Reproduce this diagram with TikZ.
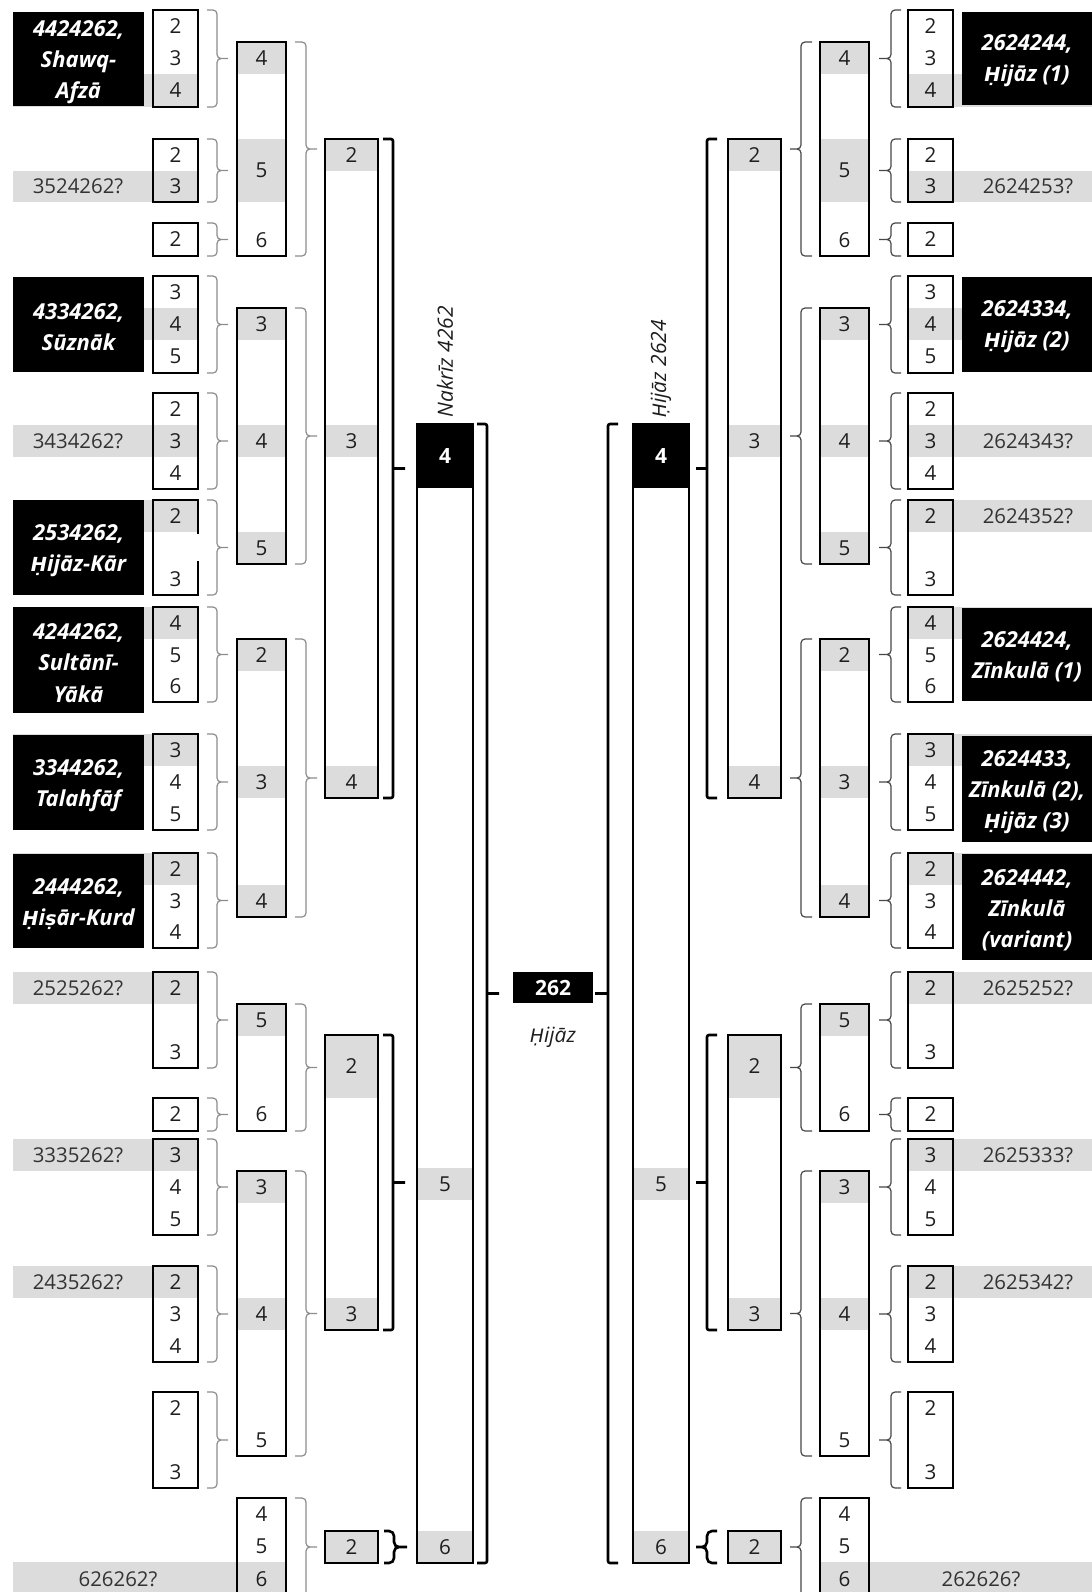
\documentclass[tikz,border=0pt]{standalone}
\usepackage{fontspec}
\setmainfont{Open Sans}
\newfontfamily\dv{DejaVu Sans}[Scale=0.88,BoldFont={DejaVu Sans Bold},
  ItalicFont={DejaVu Sans Oblique},BoldItalicFont={DejaVu Sans Bold Oblique}]
\newcommand\Hd{{\dv Ḥ}}
\newcommand\sd{{\dv ṣ}}
\usetikzlibrary{calc,fit}
\definecolor{bandgray}{HTML}{DCDCDC}
\definecolor{ink}{HTML}{1E1E1E}
\definecolor{qink}{HTML}{333333}

% braces pointing right: #1 style, #2 source node, #3 target node, #4 hook offset, #5 stem offset, #6 gap before target
\newcommand\curR[6]{%
 \draw[#1] let \p1=(#2.north east),\p2=(#2.south east),\p3=(#3.west),\p4=($(\p1)!0.5!(\p2)$) in
 (\x1+#4*0.5pt,\y1) -- (\x1+#5*0.5pt,\y1) -- (\x1+#5*0.5pt,\y4) -- (\x3-#6*0.5pt,\y4)
 (\x1+#4*0.5pt,\y2) -- (\x1+#5*0.5pt,\y2) -- (\x1+#5*0.5pt,\y4) -- (\x3-#6*0.5pt,\y4);}
\newcommand\sqR[6]{%
 \draw[#1] let \p1=(#2.north east),\p2=(#2.south east),\p3=(#3.west),\p4=($(\p1)!0.5!(\p2)$) in
 (\x1+#4*0.5pt,\y1) -- (\x1+#5*0.5pt,\y1) -- (\x1+#5*0.5pt,\y2) -- (\x1+#4*0.5pt,\y2)
 (\x1+#5*0.5pt,\y4) -- (\x3-#6*0.5pt,\y4);}
% braces pointing left
\newcommand\curL[6]{%
 \draw[#1] let \p1=(#2.north west),\p2=(#2.south west),\p3=(#3.east),\p4=($(\p1)!0.5!(\p2)$) in
 (\x1-#4*0.5pt,\y1) -- (\x1-#5*0.5pt,\y1) -- (\x1-#5*0.5pt,\y4) -- (\x3+#6*0.5pt,\y4)
 (\x1-#4*0.5pt,\y2) -- (\x1-#5*0.5pt,\y2) -- (\x1-#5*0.5pt,\y4) -- (\x3+#6*0.5pt,\y4);}
\newcommand\sqL[6]{%
 \draw[#1] let \p1=(#2.north west),\p2=(#2.south west),\p3=(#3.east),\p4=($(\p1)!0.5!(\p2)$) in
 (\x1-#4*0.5pt,\y1) -- (\x1-#5*0.5pt,\y1) -- (\x1-#5*0.5pt,\y2) -- (\x1-#4*0.5pt,\y2)
 (\x1-#5*0.5pt,\y4) -- (\x3+#6*0.5pt,\y4);}

% one side of the tree: #1 prefix, #2 A x, #3 B x, #4 C x, #5 D x
\newcommand\Side[5]{%
 \foreach \t/\b in {42/74,139/202,308/340,425/457,532/564,639/671,766/798,885/917,1004/1036,1171/1203,1298/1330,1562/1596}
   {\fill[bandgray] (#3,\t) rectangle (#3+49,\b);}
 \foreach \t/\b in {139/171,425/457,766/798,1035/1098,1298/1330,1531/1563}
   {\fill[bandgray] (#4,\t) rectangle (#4+53,\b);}
 \foreach \t/\b in {1168/1200,1531/1563}
   {\fill[bandgray] (#5,\t) rectangle (#5+56,\b);}
 \fill[black] (#5,424) rectangle (#5+56,488);
 \foreach \t/\b [count=\i] in {10/107,139/202,223/256,276/373,393/489,500/595,607/702,734/830,853/948,972/1068,1098/1131,1139/1235,1266/1362,1392/1488}
   {\node[frame,fit={(#2,\t)(#2+45,\b)}] (#1A\i) {};}
 \foreach \t/\b [count=\i] in {42/256,308/564,639/917,1004/1131,1171/1456,1498/1596}
   {\node[frame,fit={(#3,\t)(#3+49,\b)}] (#1B\i) {};}
 \foreach \t/\b [count=\i] in {139/798,1035/1330,1531/1563}
   {\node[frame,fit={(#4,\t)(#4+53,\b)}] (#1C\i) {};}
 \node[frame,fit={(#5,424)(#5+56,1563)}] (#1D) {};
 \foreach \y/\d in {26/2,58/3,90.5/4,155/2,186.5/3,239.5/2,292/3,324/4,356.5/5,409/2,441/3,473/4,516/2,579/3,623/4,655/5,686.5/6,750/3,782/4,814/5,869/2,901/3,932.5/4,988/2,1052/3,1114.5/2,1155/3,1187/4,1219/5,1282/2,1314/3,1346/4,1408/2,1472/3}
   {\node[dig] at (#2+22.5,\y) {\d};}
 \foreach \y/\d in {58/4,170.5/5,240/6,324/3,441/4,548/5,655/2,782/3,901/4,1020/5,1114.5/6,1187/3,1314/4,1440/5,1514/4,1546/5,1579/6}
   {\node[dig] at (#3+24.5,\y) {\d};}
 \foreach \y/\d in {155/2,441/3,782/4,1066/2,1314/3,1547/2}
   {\node[dig] at (#4+26.5,\y) {\d};}
 \foreach \y/\d in {1184/5,1547/6}
   {\node[dig] at (#5+28,\y) {\d};}
 \node[dig,text=white,font=\fontsize{10.5}{12}\selectfont\bfseries] at (#5+28,456) {4};
}

\begin{document}
\begin{tikzpicture}[x=0.5pt,y=-0.5pt,
  frame/.style={draw=black,line width=1.4pt,inner sep=0pt,outer sep=0pt},
  dig/.style={font=\fontsize{10.3}{12}\selectfont,text=ink,inner sep=0pt},
  qlab/.style={font=\fontsize{10.2}{12}\selectfont,text=qink,inner sep=0pt},
  bbox/.style={fill=black,inner sep=0pt,outer sep=0pt},
  btext/.style={text=white,align=center,inner sep=0pt,
    font=\fontsize{11}{15.6}\selectfont\bfseries\itshape},
  thinL/.style={draw=black!45,line width=0.6pt,rounded corners=2pt},
  thinR/.style={draw=black!72,line width=0.6pt,rounded corners=2pt},
  thick/.style={draw=black,line width=1.3pt,rounded corners=1pt},
  thickc/.style={draw=black,line width=1.3pt,rounded corners=2.5pt},
  ital/.style={font=\fontsize{10.5}{12}\selectfont\itshape,text=ink,inner sep=0pt}]
\useasboundingbox (0,0) rectangle (1092,1592);

% grey bands that tie a highlighted row to its label
\foreach \t/\b in {74/107,171/202,308/340,425/457,500/532,607/639,734/766,853/885,972/1004,1139/1171,1266/1298}
  {\fill[bandgray] (13,\t) rectangle (198,\b); \fill[bandgray] (908,\t) rectangle (1092,\b);}
\fill[bandgray] (13,1562) rectangle (286,1596);
\fill[bandgray] (820,1562) rectangle (1092,1596);

\Side{L}{153}{237}{325}{417}
\Side{R}{908}{820}{728}{633}
% opening in the frame of the Hijaz-Kar box
\draw[white,line width=2pt] (198,534) -- (198,561);

% labels, left
\node[bbox,fit={(13,12)(144,106)}] (L1) {};
\node[btext] at ($(L1.center)+(0,3)$) {4424262,\\Shawq-\\Afzā};
\node[bbox,fit={(13,277)(144,372)}] (L4) {};
\node[btext] at ($(L4.center)+(0,3)$) {4334262,\\Sūznāk};
\node[bbox,fit={(13,500)(144,595)}] (L6) {};
\node[btext] at ($(L6.center)+(0,3)$) {2534262,\\\Hd ijāz-Kār};
\node[bbox,fit={(13,607)(144,713)}] (L7) {};
\node[btext] at ($(L7.center)+(0,3)$) {4244262,\\Sultānī-\\Yākā};
\node[bbox,fit={(13,735)(144,830)}] (L8) {};
\node[btext] at ($(L8.center)+(0,3)$) {3344262,\\Talahfāf};
\node[bbox,fit={(13,854)(144,948)}] (L9) {};
\node[btext] at ($(L9.center)+(0,3)$) {2444262,\\\Hd i\sd ār-Kurd};
\node[qlab] (q1) at (78,186.5) {3524262?};
\node[qlab] (q2) at (78,441) {3434262?};
\node[qlab] (q3) at (78,988) {2525262?};
\node[qlab] (q4) at (78,1155) {3335262?};
\node[qlab] (q5) at (78,1282) {2435262?};
\node[qlab] (q6) at (118,1579) {626262?};

% labels, right
\node[bbox,fit={(962,12)(1093,105)}] (R1) {};
\node[btext] at (1027,61) {2624244,\\\Hd ijāz (1)};
\node[bbox,fit={(962,277)(1093,372)}] (R4) {};
\node[btext] at (1027,327) {2624334,\\\Hd ijāz (2)};
\node[bbox,fit={(962,608)(1093,701)}] (R7) {};
\node[btext] at (1027,657) {2624424,\\Zīnkulā (1)};
\node[bbox,fit={(962,736)(1093,842)}] (R8) {};
\node[btext] at (1027,792) {2624433,\\Zīnkulā (2),\\\Hd ijāz (3)};
\node[bbox,fit={(962,854)(1093,960)}] (R9) {};
\node[btext] at (1027,910) {2624442,\\Zīnkulā\\(variant)};
\node[qlab] (p1) at (1028,186.5) {2624253?};
\node[qlab] (p2) at (1028,441) {2624343?};
\node[qlab] (p3) at (1028,516) {2624352?};
\node[qlab] (p4) at (1028,988) {2625252?};
\node[qlab] (p5) at (1028,1155) {2625333?};
\node[qlab] (p6) at (1028,1282) {2625342?};
\node[qlab] (p7) at (981,1579) {262626?};

% centre
\node[bbox,fit={(513,972)(593,1003)}] (hz) {};
\node[text=white,inner sep=0pt,font=\fontsize{10.5}{12}\selectfont\bfseries] at (hz.center) {262};
\node[ital] (hzl) at (553,1037) {\Hd ijāz};
\node[ital,rotate=90,anchor=west] (nk) at (445,418) {Nakrīz 4262};
\node[ital,rotate=90,anchor=west] (hj) at (661,418) {\Hd ijāz 2624};

% braces, left side
\foreach \a/\b in {1/1,2/1,3/1,4/2,5/2,6/2,7/3,8/3,9/3,10/4,11/4,12/5,13/5,14/5}
  {\curR{thinL}{LA\a}{LB\b}{9}{19}{9}}
\foreach \a/\b in {1/1,2/1,3/1,4/2,5/2,6/3}
  {\curR{thinL}{LB\a}{LC\b}{9}{20}{8}}
\sqR{thick}{LC1}{LD}{5}{15}{12}
\sqR{thick}{LC2}{LD}{5}{15}{12}
\curR{thickc}{LC3}{LD}{6}{16}{10}
\sqR{thick}{LD}{hz}{4}{14}{14}

% braces, right side
\foreach \a/\b in {1/1,2/1,3/1,4/2,5/2,6/2,7/3,8/3,9/3,10/4,11/4,12/5,13/5,14/5}
  {\curL{thinR}{RA\a}{RB\b}{7}{17}{10}}
\foreach \a/\b in {1/1,2/1,3/1,4/2,5/2,6/3}
  {\curL{thinR}{RB\a}{RC\b}{8}{19}{9}}
\sqL{thick}{RC1}{RD}{11}{21}{7}
\sqL{thick}{RC2}{RD}{11}{21}{7}
\curL{thickc}{RC3}{RD}{11}{21}{7}
\sqL{thick}{RD}{hz}{15}{25}{2}
\end{tikzpicture}
\end{document}
